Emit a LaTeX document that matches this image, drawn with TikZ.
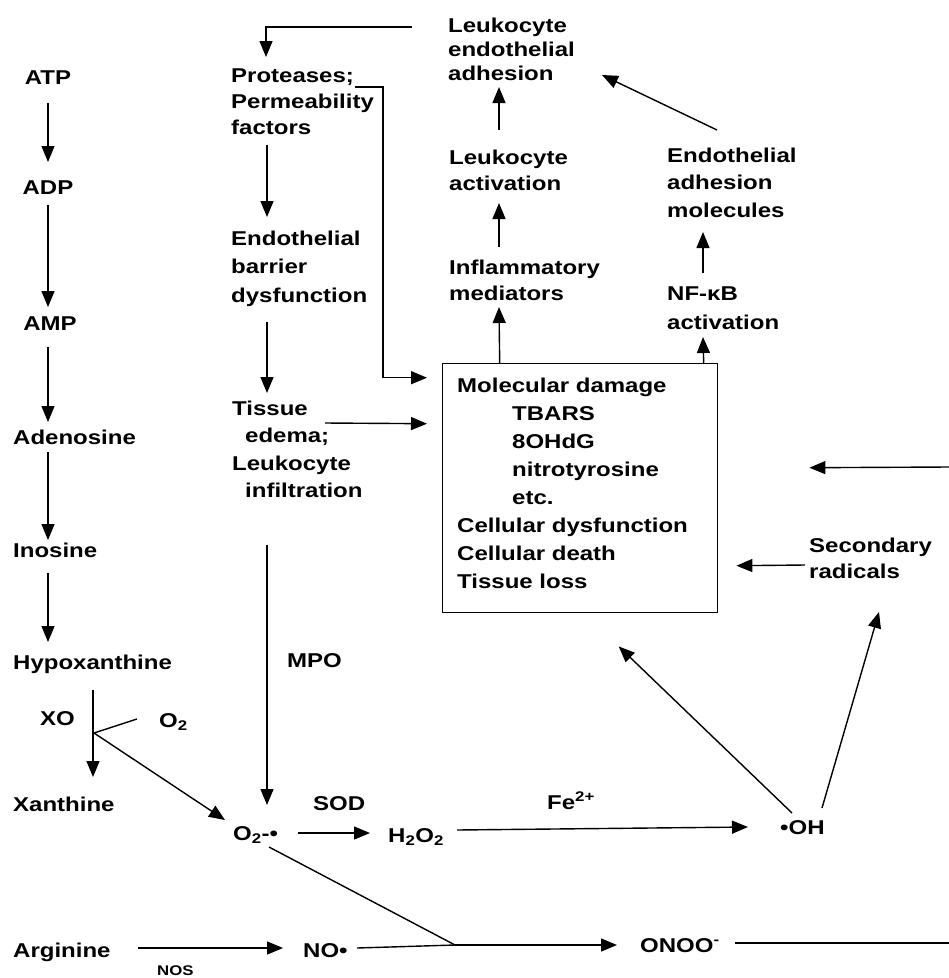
\documentclass[tikz,border=0pt]{standalone}
\usepackage{fontspec}
\setmainfont{Liberation Sans}[FakeStretch=1.2]
\usetikzlibrary{arrows.meta,calc}
\tikzset{
  lbl/.style={anchor=base west, inner sep=0pt, align=left, font=\bfseries\fontsize{20}{26}\selectfont},
  ctr/.style={anchor=base, inner sep=0pt, font=\bfseries\fontsize{20}{26}\selectfont},
  small/.style={anchor=base west, inner sep=0pt, font=\bfseries\fontsize{14}{16}\selectfont},
  conn/.style={line width=1.4pt, black},
  arr/.style={conn, -{Triangle[length=16pt,width=13pt]}},
  frame/.style={draw, line width=1.4pt, inner sep=0pt, anchor=north west}
}
\begin{document}
\begin{tikzpicture}[x=1pt,y=-1pt]
\useasboundingbox (0,0) rectangle (949,978);
% left column
\node[ctr] (atp) at (48,84) {ATP};
\node[ctr] (adp) at (48,194) {ADP};
\node[ctr] (amp) at (50,330) {AMP};
\node[lbl] (ado) at (13,444) {Adenosine};
\node[lbl] (ino) at (13,557) {Inosine};
\node[lbl] (hyp) at (13,669) {Hypoxanthine};
\node[lbl] (xo) at (40,725) {XO};
\node[lbl] (otwo) at (159,727) {O\textsubscript{2}};
\node[lbl] (xan) at (13,811) {Xanthine};
\node[lbl] (arg) at (13,957) {Arginine};
\node[small] (nos) at (157,975) {NOS};
% bottom row
\node[lbl] (sup) at (233,840) {O\textsubscript{2}-•};
\node[lbl] (sod) at (313,810) {SOD};
\node[lbl] (hto) at (388,842) {H\textsubscript{2}O\textsubscript{2}};
\node[lbl] (fe) at (547,809) {Fe\textsuperscript{2+}};
\node[lbl] (oh) at (780,834) {•OH};
\node[lbl] (mpo) at (287,667) {MPO};
\node[lbl] (no) at (303,957) {NO•};
\node[lbl] (onoo) at (640,952) {ONOO\textsuperscript{-}};
% first-line baselines of multi-line labels
\coordinate (protf) at (231,82);
\coordinate (ebdf) at (231,245);
\coordinate (edemaf) at (232,415);
\coordinate (leaf) at (448,32);
\coordinate (lactf) at (449,164);
\coordinate (inflf) at (449,274);
\coordinate (eamf) at (667,162);
\coordinate (nfkbf) at (667,300);
\coordinate (secf) at (809,552);
\coordinate (boxf) at (457,392);
% middle column
\node[lbl] (prot) at ($(protf)+(0,52)$) {Proteases;\\Permeability\\factors};
\node[lbl, font=\bfseries\fontsize{20}{28.5}\selectfont] (ebd) at ($(ebdf)+(0,57)$) {Endothelial\\barrier\\dysfunction};
\node[lbl, font=\bfseries\fontsize{20}{27.5}\selectfont] (edema) at ($(edemaf)+(0,82.5)$) {Tissue\\\hspace*{13pt}edema;\\Leukocyte\\\hspace*{13pt}infiltration};
% upper centre / right
\node[lbl, font=\bfseries\fontsize{20}{24}\selectfont] (lea) at ($(leaf)+(0,48)$) {Leukocyte\\endothelial\\adhesion};
\node[lbl] (lact) at ($(lactf)+(0,26)$) {Leukocyte\\activation};
\node[lbl] (infl) at ($(inflf)+(0,26)$) {Inflammatory\\mediators};
\node[lbl, font=\bfseries\fontsize{20}{27.5}\selectfont] (eam) at ($(eamf)+(0,55)$) {Endothelial\\adhesion\\molecules};
\node[lbl, font=\bfseries\fontsize{20}{29}\selectfont] (nfkb) at ($(nfkbf)+(0,29)$) {NF-κB\\activation};
\node[lbl] (sec) at ($(secf)+(0,26)$) {Secondary\\radicals};
% box
\node[frame, minimum width=275pt, minimum height=249pt] (box) at (442,363) {};
\node[lbl, font=\bfseries\fontsize{20}{28}\selectfont] (boxtxt) at ($(boxf)+(0,196)$) {Molecular damage\\\hspace*{55pt}TBARS\\\hspace*{55pt}8OHdG\\\hspace*{55pt}nitrotyrosine\\\hspace*{55pt}etc.\\Cellular dysfunction\\Cellular death\\Tissue loss};
% free points
\coordinate (br) at (94,733);
\coordinate (jn) at (455,945);
\coordinate (edgeB) at (949,943);
\coordinate (edgeR) at (949,467);
% left column arrows
\draw[arr] ($(atp.base)+(0,19)$) -- ($(adp.base)+(0,-32)$);
\draw[arr] ($(adp.base)+(0,11)$) -- ($(amp.base)+(-2,-23)$);
\draw[arr] ($(amp.base)+(-2,17)$) -- ($(ado.base west)+(35,-22)$);
\draw[arr] ($(ado.base west)+(35,8)$) -- ($(ino.base west)+(35,-17)$);
\draw[arr] ($(ino.base west)+(35,16)$) -- ($(hyp.base west)+(35,-27)$);
\draw[arr] ($(hyp.base west)+(80,21)$) -- ($(xan.base west)+(80,-34)$);
\draw[conn] (br) -- ($(otwo.base west)+(-22,-8)$);
\draw[arr] (br) -- ($(sup.base west)+(-8,-20)$);
% MPO
\draw[arr] ($(edemaf)+(35,130)$) -- ($(sup.base west)+(34,-35)$);
% bottom chain
\draw[arr] ($(sup.base west)+(65,-7)$) -- ($(hto.base west)+(-18,-9)$);
\draw[arr] ($(hto.base west)+(69,-12)$) -- ($(oh.base west)+(-32,-7)$);
\draw[arr] ($(arg.base west)+(125,-9)$) -- ($(no.base west)+(-20,-9)$);
\draw[conn] ($(no.base west)+(54,-9)$) -- (jn);
\draw[conn] ($(sup.base west)+(36,7)$) -- (jn);
\draw[arr] (jn) -- ($(onoo.base west)+(-23,-7)$);
\draw[conn] ($(onoo.base west)+(95,-9)$) -- (edgeB);
\draw[arr] (edgeR) -- ($(box.east)+(91,-20.5)$);
% radicals
\draw[arr] ($(secf)+(-4,13)$) -- ($(box.east)+(18,77.5)$);
\draw[arr] ($(oh.base west)+(12,-21)$) -- ($(box.south)+(38.5,33)$);
\draw[arr] ($(oh.base west)+(42,-26)$) -- ($(secf)+(70,60)$);
% middle column
\draw[arr] ($(edemaf)+(93,8)$) -- ($(box.west)+(-15,-64.5)$);
\draw[arr] ($(protf)+(124,5)$) -- ++(28,0) |- ($(box.west)+(-15,-110.5)$);
\draw[arr] ($(leaf)+(-36,-5)$) -| ($(protf)+(35,-25)$);
\draw[arr] ($(protf)+(36,63)$) -- ($(ebdf)+(36,-28)$);
\draw[arr] ($(ebdf)+(36,77)$) -- ($(edemaf)+(35,-22)$);
% upper centre
\draw[arr] ($(lactf)+(50,-34)$) -- ($(leaf)+(51,55)$);
\draw[arr] ($(inflf)+(50,-27)$) -- ($(lactf)+(50,39)$);
\draw[arr] ($(box.north)+(-80.5,0)$) -- ($(inflf)+(50,33)$);
\draw[arr] ($(box.north)+(123.5,0)$) -- ($(nfkbf)+(36,37)$);
\draw[arr] ($(nfkbf)+(36,-27)$) -- ($(eamf)+(36,70)$);
\draw[arr] ($(eamf)+(50,-32)$) -- ($(leaf)+(154,43)$);
\end{tikzpicture}
\end{document}
